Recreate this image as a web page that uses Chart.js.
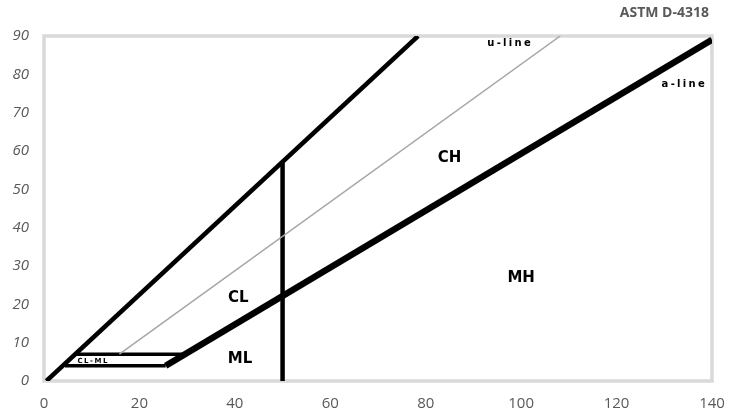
<!DOCTYPE html>
<html>
<head>
<meta charset="utf-8">
<script src="https://cdn.jsdelivr.net/npm/chart.js@4.4.1/dist/chart.umd.min.js"></script>
<style>
  html, body { margin: 0; padding: 0; background: #fff; }
  #wrap { width: 746px; height: 411px; }
</style>
</head>
<body>
<div id="wrap"><canvas id="chart"></canvas></div>
<script>
// Limites dos eixos (LL no x, PI no y)
const xTicks = [0, 20, 40, 60, 80, 100, 120, 140];
const yTicks = [0, 10, 20, 30, 40, 50, 60, 70, 80, 90];

// Linhas da carta de plasticidade
const upperLine = [[0.5, 0], [78.4, 90]];
const uLine = [[15.8, 7], [108.2, 90]];
const aLine = [[25.5, 4], [140, 89]];
const llLine = [[50, 0], [50, 57]];
const clmlTop = [[6.5, 7], [29.6, 7]];
const clmlBottom = [[4.4, 4], [25.5, 4]];

// Rótulos das zonas
const zoneNames = ['CH', 'CL', 'ML', 'MH'];
const zoneX = [85, 40.7, 41.1, 100];
const zoneY = [58.2, 21.7, 5.7, 26.9];
const lineNames = ['u-line', 'a-line'];
const lineX = [97.7, 134.2];
const lineY = [88, 77.3];
const smallName = 'CL-ML';
const smallXY = [10.3, 5.2];
const chartTitle = 'ASTM D-4318';

const toPoints = arr => arr.map(([x, y]) => ({ x, y }));

function lineSet(points, color, width) {
    return {
        data: toPoints(points),
        showLine: true,
        borderColor: color,
        borderWidth: width,
        pointRadius: 0,
        fill: false,
        borderCapStyle: 'butt',
        borderJoinStyle: 'miter'
    };
}

const labelsPlugin = {
    id: 'labels',
    beforeDatasetsDraw(chart) {
        const { ctx, chartArea: a } = chart;
        ctx.save();
        ctx.strokeStyle = '#d9d9d9';
        ctx.lineWidth = 3.5;
        ctx.strokeRect(a.left, a.top, a.right - a.left, a.bottom - a.top);
        ctx.restore();
    },
    afterDatasetsDraw(chart) {
        const { ctx, scales: { x, y } } = chart;
        ctx.save();
        ctx.textAlign = 'center';
        ctx.textBaseline = 'middle';
        ctx.fillStyle = '#000';

        ctx.font = 'bold 15px "DejaVu Sans"';
        zoneNames.forEach((name, i) => {
            ctx.fillText(name, x.getPixelForValue(zoneX[i]), y.getPixelForValue(zoneY[i]));
        });

        ctx.font = 'bold 10px "DejaVu Sans"';
        ctx.letterSpacing = '2.3px';
        lineNames.forEach((name, i) => {
            ctx.fillText(name, x.getPixelForValue(lineX[i]), y.getPixelForValue(lineY[i]));
        });

        ctx.font = 'bold 7px "DejaVu Sans"';
        ctx.letterSpacing = '1.5px';
        ctx.fillText(smallName, x.getPixelForValue(smallXY[0]), y.getPixelForValue(smallXY[1]));

        ctx.letterSpacing = '0px';
        ctx.font = 'bold 14px "Open Sans"';
        ctx.fillStyle = '#595959';
        ctx.textAlign = 'right';
        ctx.fillText(chartTitle, 709, 13);
        ctx.restore();
    }
};

new Chart(document.getElementById('chart'), {
    type: 'scatter',
    data: {
        datasets: [
            lineSet(uLine, '#a6a6a6', 1.5),
            lineSet(upperLine, '#000', 4.5),
            lineSet(llLine, '#000', 4.5),
            lineSet(aLine, '#000', 6.5),
            lineSet(clmlTop, '#000', 3.5),
            lineSet(clmlBottom, '#000', 3.5)
        ]
    },
    options: {
        responsive: true,
        maintainAspectRatio: false,
        animation: false,
        layout: { padding: { top: 36, right: 34, left: 0, bottom: 0 } },
        plugins: { legend: { display: false }, tooltip: { enabled: false } },
        scales: {
            x: {
                type: 'linear',
                min: xTicks[0],
                max: xTicks[xTicks.length - 1],
                grid: { display: false, drawTicks: false },
                border: { display: false },
                afterBuildTicks: s => { s.ticks = xTicks.map(v => ({ value: v })); },
                afterFit: s => { s.height = 30; },
                ticks: { padding: 14, color: '#595959', font: { family: 'Open Sans', size: 15 } }
            },
            y: {
                type: 'linear',
                min: yTicks[0],
                max: yTicks[yTicks.length - 1],
                grid: { display: false, drawTicks: false },
                border: { display: false },
                afterBuildTicks: s => { s.ticks = yTicks.map(v => ({ value: v })); },
                afterFit: s => { s.width = 44; },
                ticks: { padding: 15, color: '#595959', font: { family: 'Open Sans', size: 15, style: 'italic' } }
            }
        }
    },
    plugins: [labelsPlugin]
});
</script>
</body>
</html>
